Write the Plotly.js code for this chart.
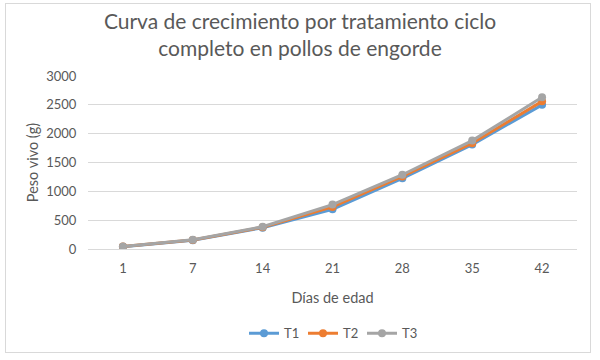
<!DOCTYPE html>
<html><head><meta charset="utf-8">
<script src="https://cdn.plot.ly/plotly-3.0.1.min.js"></script>
<style>body{margin:0;background:#fff}#c{width:600px;height:360px;position:absolute;left:0;top:0}
#b{position:absolute;left:5px;top:3px;width:584px;height:348px;border:1px solid #d9d9d9;pointer-events:none}</style>
</head><body><div id="c"></div><div id="b"></div>
<script>
const days = ['1','7','14','21','28','35','42'];
const t1 = [40, 150, 370, 690, 1225, 1810, 2500];
const t2 = [42, 158, 378, 730, 1258, 1835, 2560];
const t3 = [44, 162, 385, 770, 1288, 1880, 2630];
const names = ['T1','T2','T3'];
const colors = ['#5B9BD5','#ED7D31','#A5A5A5'];
const series = [t1, t2, t3];
const font = 'Lato, "Open Sans", sans-serif';
const traces = series.map((s,i)=>({
  x: days, y: s, name: names[i], type:'scatter', mode:'lines+markers',
  line:{color:colors[i], width:3}, marker:{color:colors[i], size:8, symbol:'circle'}
}));
const layout = {
  width:600, height:360, margin:{l:88, r:23, t:76, b:109},
  paper_bgcolor:'#fff', plot_bgcolor:'#fff',
  font:{family:font, color:'#595959', size:13},
  title:{text:'Curva de crecimiento por tratamiento ciclo<br>completo en pollos de engorde', x:0.5, xanchor:'center', yref:'container', y:0.92, yanchor:'middle', font:{size:21, color:'#595959', family:font}},
  xaxis:{type:'category', range:[-0.5,6.5], showgrid:false, zeroline:false, showline:true, linecolor:'#d9d9d9', ticks:'outside', ticklen:7, tickcolor:'rgba(0,0,0,0)', tickfont:{size:13, color:'#595959'},
    title:{text:'Días de edad', font:{size:14.5, color:'#595959'}, standoff:18}},
  yaxis:{range:[0,3000], dtick:500, showgrid:true, gridcolor:'#d9d9d9', zeroline:false, showline:false, ticks:'outside', ticklen:8, tickcolor:'rgba(0,0,0,0)', tickfont:{size:13, color:'#595959'},
    title:{text:'Peso vivo (g)', font:{size:14.5, color:'#595959'}, standoff:4}},
  legend:{orientation:'h', x:0.5, xanchor:'center', y:-0.4, yanchor:'top', font:{size:13, color:'#595959'}, entrywidth:14, entrywidthmode:'pixels'},
  showlegend:true
};
Plotly.newPlot('c', traces, layout, {displayModeBar:false, staticPlot:true});
</script></body></html>
